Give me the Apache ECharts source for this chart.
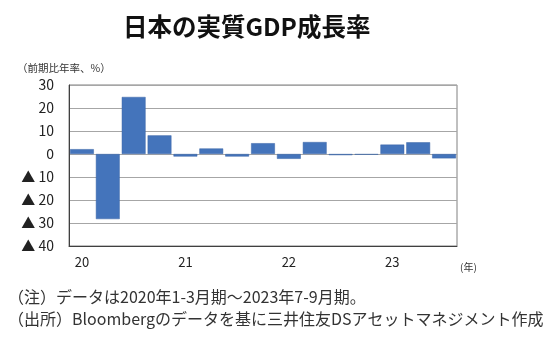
<!DOCTYPE html>
<html>
<head>
<meta charset="utf-8">
<script src="https://cdn.jsdelivr.net/npm/echarts@6/dist/echarts.min.js"></script>
<style>html,body{margin:0;padding:0;background:#fff;}#c{width:550px;height:338px;}</style>
</head>
<body>
<div id="c"></div>
<script>
// Quarters 2020 Q1 .. 2023 Q3
const categories = ['2020Q1','2020Q2','2020Q3','2020Q4','2021Q1','2021Q2','2021Q3','2021Q4','2022Q1','2022Q2','2022Q3','2022Q4','2023Q1','2023Q2','2023Q3'];
const yearLabels = ['20','','','','21','','','','22','','','','23','',''];
const gdpGrowth = [2.1, -28.3, 24.8, 8.1, -1.1, 2.4, -1.1, 4.7, -2.1, 5.2, -0.5, -0.3, 4.1, 5.1, -1.9];
const yTickValues = [30, 20, 10, 0, -10, -20, -30, -40];
const yTickLabels = ['30', '20', '10', '0', '▲ 10', '▲ 20', '▲ 30', '▲ 40'];
const titleText = '日本の実質GDP成長率';
const yUnitText = '（前期比年率、%）';
const xUnitText = '(年)';
const note1 = '（注）データは2020年1-3月期～2023年7-9月期。';
const note2 = '（出所）Bloombergのデータを基に三井住友DSアセットマネジメント作成';

const FONT = "'Noto Sans CJK JP', 'Noto Sans', sans-serif";
const chart = echarts.init(document.getElementById('c'), null, {renderer: 'canvas'});
chart.setOption({
  animation: false,
  backgroundColor: '#ffffff',
  title: [
    {text: titleText, left: 118, top: 9, textStyle: {fontFamily: FONT, fontSize: 24.5, fontWeight: 'bold', color: '#111'}},
    {text: yUnitText, left: 12, top: 58, textStyle: {fontFamily: FONT, fontSize: 10.5, fontWeight: 'normal', color: '#333'}},
    {text: note1, left: 3, top: 284, textStyle: {fontFamily: FONT, fontSize: 16, fontWeight: 'normal', color: '#333'}},
    {text: note2, left: 3, top: 306, textStyle: {fontFamily: FONT, fontSize: 16, fontWeight: 'normal', color: '#333'}}
  ],
  grid: {left: 69, right: 93, top: 85, bottom: 92, show: true, borderColor: '#808080', borderWidth: 1},
  xAxis: {
    type: 'category',
    data: categories,
    name: xUnitText,
    nameLocation: 'end',
    nameGap: 3,
    nameTextStyle: {fontFamily: FONT, fontSize: 10, color: '#333', verticalAlign: 'top', padding: [16, 0, 0, 0]},
    axisLine: {show: true, onZero: false, lineStyle: {color: '#404040', width: 1}},
    axisTick: {show: false},
    axisLabel: {
      interval: 0, margin: 10,
      formatter: (v, i) => yearLabels[i],
      fontFamily: FONT, fontSize: 13, color: '#222'
    },
    splitLine: {show: false}
  },
  yAxis: {
    type: 'value',
    min: -40, max: 30, interval: 10,
    axisLine: {show: true, lineStyle: {color: '#404040', width: 1}},
    axisTick: {show: false},
    axisLabel: {
      margin: 15,
      formatter: v => { const i = yTickValues.indexOf(v); return i >= 0 ? yTickLabels[i] : ''; },
      fontFamily: FONT, fontSize: 14, color: '#222'
    },
    splitLine: {show: true, lineStyle: {color: '#a6a6a6', width: 1}}
  },
  series: [{
    type: 'bar',
    data: gdpGrowth,
    barCategoryGap: '8%',
    itemStyle: {color: '#4474bb', borderColor: '#3a64a6', borderWidth: 0.5}
  }]
});
</script>
</body>
</html>
